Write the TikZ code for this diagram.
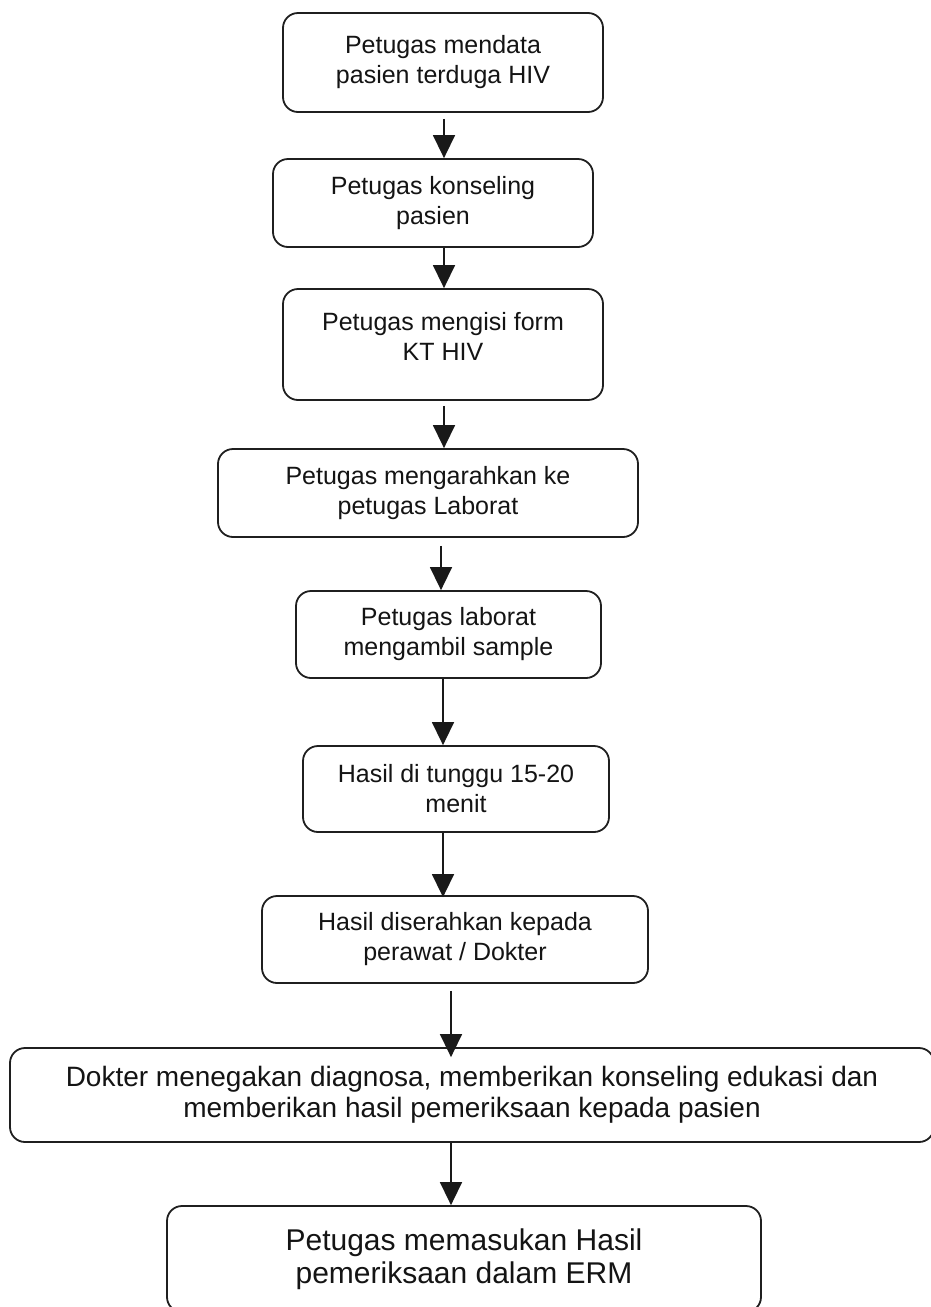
\documentclass[tikz,border=0pt]{standalone}
\usepackage{fontspec}
\setmainfont{Liberation Sans}
\usetikzlibrary{arrows.meta}
\begin{document}
\begin{tikzpicture}[x=1pt,y=-1pt,
  stepbox/.style={draw=black!88, line width=1.8pt, rounded corners=15pt, inner sep=0pt, align=center, text=black!92},
  smalltxt/.style={font=\fontsize{25}{30}\selectfont},
  midtxt/.style={font=\fontsize{28}{31}\selectfont},
  bigtxt/.style={font=\fontsize{30}{33}\selectfont},
  arr/.style={draw=black!90, line width=1.5pt, -{Triangle[length=23pt,width=22pt]}}]
\useasboundingbox (0,0) rectangle (931,1307);
\clip (0,0) rectangle (931,1307);
\fill[white] (0,0) rectangle (931,1307);

\node[stepbox, smalltxt, minimum width=320pt, minimum height=99pt] (b1) at (443,62.5) {Petugas mendata\\pasien terduga HIV};
\node[stepbox, smalltxt, minimum width=320pt, minimum height=88pt] (b2) at (433,203) {Petugas konseling\\pasien};
\node[stepbox, smalltxt, minimum width=320pt, minimum height=111pt] (b3) at (443,344.5) {Petugas mengisi form\\KT HIV\\[-13pt]\mbox{}};
\node[stepbox, smalltxt, minimum width=420pt, minimum height=88pt] (b4) at (428,493) {Petugas mengarahkan ke\\petugas Laborat};
\node[stepbox, smalltxt, minimum width=305pt, minimum height=87pt] (b5) at (448.5,634.5) {Petugas laborat\\mengambil sample};
\node[stepbox, smalltxt, minimum width=306pt, minimum height=86pt] (b6) at (456,789) {Hasil di tunggu 15-20\\menit};
\node[stepbox, smalltxt, minimum width=386pt, minimum height=87pt] (b7) at (455,939.5) {Hasil diserahkan kepada\\perawat / Dokter};
\node[stepbox, midtxt, minimum width=924pt, minimum height=94pt] (b8) at (472,1095) {Dokter menegakan diagnosa, memberikan konseling edukasi dan\\memberikan hasil pemeriksaan kepada pasien};
\node[stepbox, bigtxt, minimum width=594pt, minimum height=106pt] (b9) at (464,1259) {Petugas memasukan Hasil\\pemeriksaan dalam ERM};

\draw[arr] ([xshift=1pt,yshift=-6pt]b1.south) -- ([xshift=11pt]b2.north);
\draw[arr] ([xshift=11pt]b2.south) -- ([xshift=1pt]b3.north);
\draw[arr] ([xshift=1pt,yshift=-5pt]b3.south) -- ([xshift=16pt]b4.north);
\draw[arr] ([xshift=13pt,yshift=-8pt]b4.south) -- ([xshift=-7.5pt]b5.north);
\draw[arr] ([xshift=-5.5pt]b5.south) -- ([xshift=-13pt]b6.north);
\draw[arr] ([xshift=-13pt]b6.south) -- ([xshift=-12pt,yshift=-2pt]b7.north);
\draw[arr] ([xshift=-4pt,yshift=-7pt]b7.south) -- ([xshift=-21pt,yshift=-10pt]b8.north);
\draw[arr] ([xshift=-21pt]b8.south) -- ([xshift=-13pt]b9.north);
\end{tikzpicture}
\end{document}
